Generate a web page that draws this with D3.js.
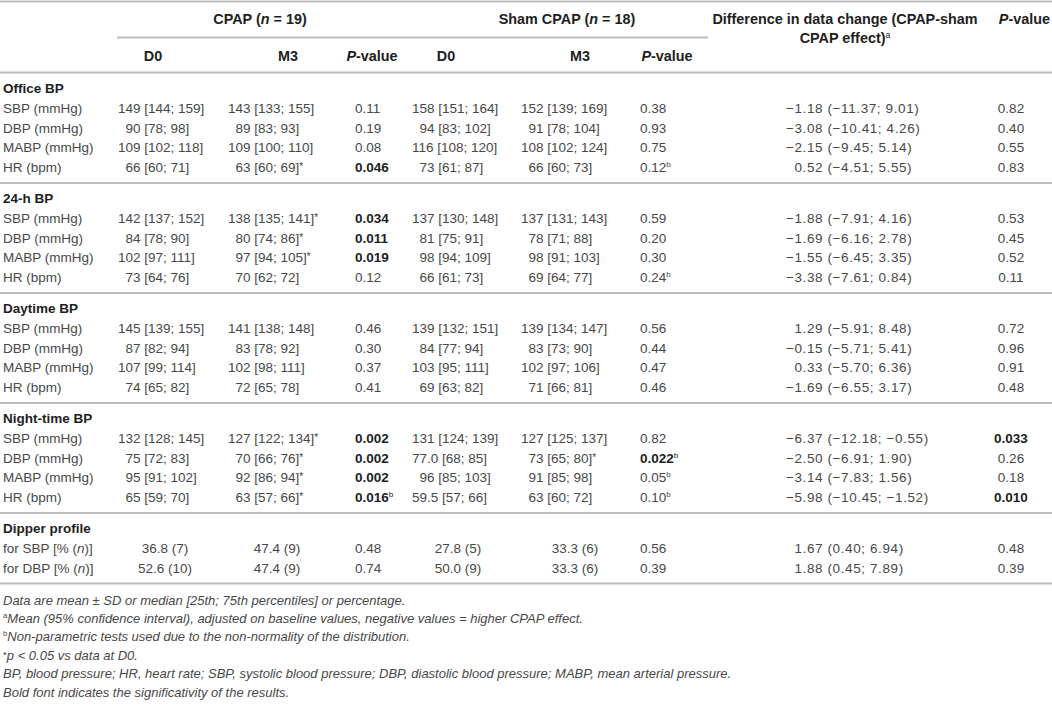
<!DOCTYPE html>
<html>
<head>
<meta charset="utf-8">
<script src="https://cdn.jsdelivr.net/npm/d3@7"></script>
<style>
  body { margin: 0; background: #fff; }
  svg text { font-family: "Liberation Sans", Arial, Helvetica, sans-serif; }
</style>
</head>
<body>
<svg id="tbl"></svg>
<script>
////////////////////////////////////////////////////////////////////////////////////
// Table data
var sectionTitles = ["Office BP", "24-h BP", "Daytime BP", "Night-time BP", "Dipper profile"];
var sectionSizes = [4, 4, 4, 4, 2];

var rowLabels = [
  "SBP (mmHg)", "DBP (mmHg)", "MABP (mmHg)", "HR (bpm)",
  "SBP (mmHg)", "DBP (mmHg)", "MABP (mmHg)", "HR (bpm)",
  "SBP (mmHg)", "DBP (mmHg)", "MABP (mmHg)", "HR (bpm)",
  "SBP (mmHg)", "DBP (mmHg)", "MABP (mmHg)", "HR (bpm)",
  "for SBP [% (_n_)]", "for DBP [% (_n_)]"
];
var cpapD0 = [
  "149 [144; 159]", "90 [78; 98]", "109 [102; 118]", "66 [60; 71]",
  "142 [137; 152]", "84 [78; 90]", "102 [97; 111]", "73 [64; 76]",
  "145 [139; 155]", "87 [82; 94]", "107 [99; 114]", "74 [65; 82]",
  "132 [128; 145]", "75 [72; 83]", "95 [91; 102]", "65 [59; 70]",
  "36.8 (7)", "52.6 (10)"
];
var cpapM3 = [
  "143 [133; 155]", "89 [83; 93]", "109 [100; 110]", "63 [60; 69]^*",
  "138 [135; 141]^*", "80 [74; 86]^*", "97 [94; 105]^*", "70 [62; 72]",
  "141 [138; 148]", "83 [78; 92]", "102 [98; 111]", "72 [65; 78]",
  "127 [122; 134]^*", "70 [66; 76]^*", "92 [86; 94]^*", "63 [57; 66]^*",
  "47.4 (9)", "47.4 (9)"
];
var cpapP = [
  "0.11", "0.19", "0.08", "0.046",
  "0.034", "0.011", "0.019", "0.12",
  "0.46", "0.30", "0.37", "0.41",
  "0.002", "0.002", "0.002", "0.016^b",
  "0.48", "0.74"
];
var shamD0 = [
  "158 [151; 164]", "94 [83; 102]", "116 [108; 120]", "73 [61; 87]",
  "137 [130; 148]", "81 [75; 91]", "98 [94; 109]", "66 [61; 73]",
  "139 [132; 151]", "84 [77; 94]", "103 [95; 111]", "69 [63; 82]",
  "131 [124; 139]", "77.0 [68; 85]", "96 [85; 103]", "59.5 [57; 66]",
  "27.8 (5)", "50.0 (9)"
];
var shamM3 = [
  "152 [139; 169]", "91 [78; 104]", "108 [102; 124]", "66 [60; 73]",
  "137 [131; 143]", "78 [71; 88]", "98 [91; 103]", "69 [64; 77]",
  "139 [134; 147]", "83 [73; 90]", "102 [97; 106]", "71 [66; 81]",
  "127 [125; 137]", "73 [65; 80]^*", "91 [85; 98]", "63 [60; 72]",
  "33.3 (6)", "33.3 (6)"
];
var shamP = [
  "0.38", "0.93", "0.75", "0.12^b",
  "0.59", "0.20", "0.30", "0.24^b",
  "0.56", "0.44", "0.47", "0.46",
  "0.82", "0.022^b", "0.05^b", "0.10^b",
  "0.56", "0.39"
];
var diffCI = [
  "−1.18 (−11.37; 9.01)", "−3.08 (−10.41; 4.26)", "−2.15 (−9.45; 5.14)", "0.52 (−4.51; 5.55)",
  "−1.88 (−7.91; 4.16)", "−1.69 (−6.16; 2.78)", "−1.55 (−6.45; 3.35)", "−3.38 (−7.61; 0.84)",
  "1.29 (−5.91; 8.48)", "−0.15 (−5.71; 5.41)", "0.33 (−5.70; 6.36)", "−1.69 (−6.55; 3.17)",
  "−6.37 (−12.18; −0.55)", "−2.50 (−6.91; 1.90)", "−3.14 (−7.83; 1.56)", "−5.98 (−10.45; −1.52)",
  "1.67 (0.40; 6.94)", "1.88 (0.45; 7.89)"
];
var diffP = [
  "0.82", "0.40", "0.55", "0.83",
  "0.53", "0.45", "0.52", "0.11",
  "0.72", "0.96", "0.91", "0.48",
  "0.033", "0.26", "0.18", "0.010",
  "0.48", "0.39"
];

var groupHeaders = ["CPAP (_n_ = 19)", "Sham CPAP (_n_ = 18)"];
var subHeaders = ["D0", "M3", "_P_-value", "D0", "M3", "_P_-value"];
var diffHeader = ["Difference in data change (CPAP-sham", "CPAP effect)^a"];
var lastHeader = "_P_-value";

var footnotes = [
  "Data are mean ± SD or median [25th; 75th percentiles] or percentage.",
  "^aMean (95% confidence interval), adjusted on baseline values, negative values = higher CPAP effect.",
  "^bNon-parametric tests used due to the non-normality of the distribution.",
  "^*p < 0.05 vs data at D0.",
  "BP, blood pressure; HR, heart rate; SBP, systolic blood pressure; DBP, diastolic blood pressure; MABP, mean arterial pressure.",
  "Bold font indicates the significativity of the results."
];

////////////////////////////////////////////////////////////////////////////////////
// Layout
var width = 1052, height = 705;
var fs = 13.5;                 // body font size
var headFs = 14.4;             // header font size
var textColor = "#484848", boldColor = "#1e1e1e", ruleColor = "#bbbbbb";

var svg = d3.select("#tbl").attr("width", width).attr("height", height);

// column key -> x (left edge or centre depending on column)
var colKeys = ["label", "cpapD0", "cpapM3", "cpapP", "shamD0", "shamM3", "shamP", "diffCI", "diffP"];
var colX = d3.scaleOrdinal().domain(colKeys).range([3, 118, 228, 355, 412, 521, 640, 786, 1011]);
// centre of the value columns when text is centred (dipper rows)
var colMid = d3.scaleOrdinal().domain(colKeys).range([3, 165, 277, 355, 458, 575, 640, 786, 1011]);
var headMid = d3.scaleOrdinal().domain(["cpapD0", "cpapM3", "cpapP", "shamD0", "shamM3", "shamP"])
                .range([153, 288, 372, 446, 580, 667]);

// rows: section index -> y of its title, row index within section -> offset
var ySection = d3.scaleLinear().domain([0, 1]).range([88, 198]);
var yRow = d3.scaleLinear().domain([0, 1]).range([0, 19.75]);
var baseShift = 5;             // centre -> baseline

////////////////////////////////////////////////////////////////////////////////////
// rich text: _italic_ and ^x superscript
function addRich(textSel, str, size) {
  size = size || fs;
  var parts = str.split(/(\^.|_[^_]*_)/).filter(function(p) { return p.length; });
  var lift = 0;
  parts.forEach(function(p) {
    var t = textSel.append("tspan");
    if (p[0] === "^") {
      var star = p[1] === "*";
      var up = star ? 2 : 5;
      t.text(p.slice(1)).attr("font-size", size * (star ? 0.75 : 0.6))
       .attr("dy", lift - up).attr("font-weight", "normal").attr("font-style", "normal");
      lift = up;
      return;
    }
    if (lift) { t.attr("dy", lift); lift = 0; }
    if (p[0] === "_" && p.length > 1) {
      t.text(p.slice(1, -1)).attr("font-style", "italic");
    } else {
      t.text(p);
    }
  });
}

function isSignificant(str) {
  var v = parseFloat(str);
  return !isNaN(v) && v < 0.05;
}

////////////////////////////////////////////////////////////////////////////////////
// Rules
var rules = [{ x1: 0, x2: width, y: 1.5 }, { x1: 117, x2: 708, y: 37.5 }, { x1: 0, x2: width, y: 72.5 }];
var flatIndex = 0;
var rows = [];
sectionSizes.forEach(function(n, s) {
  rows.push({ type: "title", s: s, r: 0, label: sectionTitles[s] });
  for (var r = 1; r <= n; r++) {
    rows.push({ type: "data", s: s, r: r, i: flatIndex++ });
  }
  rules.push({ x1: 0, x2: width, y: ySection(s) + yRow(n) + 16 });
});

svg.selectAll(".rule")
   .data(rules)
   .enter()
   .append("line")
   .attr("class", "rule")
   .attr("x1", function(d) { return d.x1; })
   .attr("x2", function(d) { return d.x2; })
   .attr("y1", function(d) { return d.y; })
   .attr("y2", function(d) { return d.y; })
   .attr("stroke", ruleColor)
   .attr("stroke-width", 1.8);

////////////////////////////////////////////////////////////////////////////////////
// Header
var head = svg.append("g")
              .attr("font-size", headFs)
              .attr("font-weight", "bold")
              .attr("fill", boldColor);

var groupMid = [260, 567];
groupHeaders.forEach(function(h, k) {
  var t = head.append("text").attr("x", groupMid[k]).attr("y", 19 + baseShift)
              .attr("text-anchor", "middle");
  addRich(t, h, headFs);
});
["cpapD0", "cpapM3", "cpapP", "shamD0", "shamM3", "shamP"].forEach(function(key, k) {
  var t = head.append("text").attr("x", headMid(key)).attr("y", 56 + baseShift)
              .attr("text-anchor", "middle");
  addRich(t, subHeaders[k], headFs);
});
diffHeader.forEach(function(h, k) {
  var t = head.append("text").attr("x", 845).attr("y", 19 + k * 19 + baseShift)
              .attr("text-anchor", "middle");
  addRich(t, h, headFs);
});
addRich(head.append("text").attr("x", 1050).attr("y", 19 + baseShift).attr("text-anchor", "end"),
        lastHeader, headFs);

////////////////////////////////////////////////////////////////////////////////////
// Body
var columns = { cpapD0: cpapD0, cpapM3: cpapM3, cpapP: cpapP, shamD0: shamD0, shamM3: shamM3,
                shamP: shamP, diffCI: diffCI, diffP: diffP };
var digitW = fs * 0.556, diffSpacing = 0.6, minusW = fs * 0.584 + diffSpacing;

var body = svg.append("g").attr("font-size", fs).attr("fill", textColor);

rows.forEach(function(row) {
  var y = ySection(row.s) + yRow(row.r) + baseShift;
  if (row.type === "title") {
    body.append("text").attr("x", colX("label")).attr("y", y)
        .attr("font-weight", "bold").attr("fill", boldColor).text(row.label);
    return;
  }
  addRich(body.append("text").attr("x", colX("label")).attr("y", y), rowLabels[row.i]);

  var dipper = row.s === sectionTitles.length - 1;
  Object.keys(columns).forEach(function(key) {
    var str = columns[key][row.i];
    var t = body.append("text").attr("y", y);
    var isP = key === "cpapP" || key === "shamP" || key === "diffP";
    if (isP && isSignificant(str)) t.attr("font-weight", "bold").attr("fill", boldColor);

    if (key === "diffP") {
      t.attr("x", colX(key)).attr("text-anchor", "middle");
    } else if (dipper && (key === "cpapD0" || key === "cpapM3" || key === "shamD0" || key === "shamM3")) {
      t.attr("x", colMid(key)).attr("text-anchor", "middle");
    } else if (key === "diffCI") {
      t.attr("x", colX(key) + (str[0] === "−" ? 0 : minusW)).attr("letter-spacing", diffSpacing);
    } else {
      var lead = str.split(" ")[0];
      t.attr("x", colX(key) + (/^\d\d$/.test(lead) ? digitW : 0));
    }
    addRich(t, str);
  });
});

////////////////////////////////////////////////////////////////////////////////////
// Footnotes
var footFs = 13;
var yFoot = d3.scaleLinear().domain([0, 1]).range([600, 618.4]);
var foot = svg.append("g").attr("font-size", footFs).attr("font-style", "italic").attr("fill", textColor);
footnotes.forEach(function(f, k) {
  addRich(foot.append("text").attr("x", 3).attr("y", yFoot(k) + 4.5), f, footFs);
});
</script>
</body>
</html>
